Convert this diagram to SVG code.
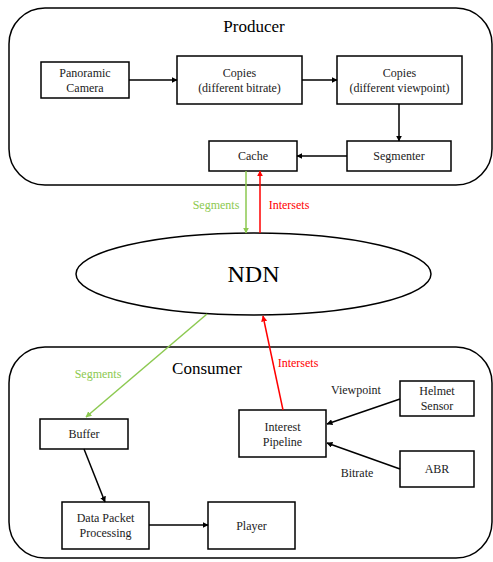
<svg xmlns="http://www.w3.org/2000/svg" width="493" height="562" viewBox="0 0 493 562">
<defs>
<style>
.box{fill:#fff;stroke:#000;stroke-width:1.5}
.cont{fill:none;stroke:#000;stroke-width:1.5}
text{font-family:"Liberation Serif","Times New Roman",serif;font-size:12px;fill:#222;text-anchor:middle}
.title{font-size:17px;fill:#000}
.ndn{font-size:24px;fill:#000}
.g{fill:#8cc950}
.r{fill:#ff0000}
.k{stroke:#000;stroke-width:1.5;fill:none}
.gl{stroke:#8cc950;stroke-width:1.5;fill:none}
.rl{stroke:#ff0000;stroke-width:1.5;fill:none}
</style>
<marker id="ak" viewBox="0 0 10 10" refX="9" refY="5" markerWidth="6" markerHeight="6" orient="auto" markerUnits="userSpaceOnUse"><path d="M0,0 L10,5 L0,10 z" fill="#000"/></marker>
<marker id="ag" viewBox="0 0 10 10" refX="9" refY="5" markerWidth="6" markerHeight="6" orient="auto" markerUnits="userSpaceOnUse"><path d="M0,0 L10,5 L0,10 z" fill="#8cc950"/></marker>
<marker id="ar" viewBox="0 0 10 10" refX="9" refY="5" markerWidth="6" markerHeight="6" orient="auto" markerUnits="userSpaceOnUse"><path d="M0,0 L10,5 L0,10 z" fill="#ff0000"/></marker>
</defs>
<rect width="493" height="562" fill="#fff"/>
<g id="producer">
<rect class="cont" x="9" y="8" width="483" height="177" rx="36" ry="36"/>
<text class="title" x="254" y="32">Producer</text>
</g>
<g id="consumer">
<rect class="cont" x="9" y="347" width="483" height="211" rx="36" ry="36"/>
<text class="title" x="207" y="374">Consumer</text>
</g>
<g id="camera"><rect class="box" x="41" y="62" width="88" height="36"/><text x="85" y="77">Panoramic</text><text x="85" y="92">Camera</text></g>
<g id="copies-bitrate"><rect class="box" x="177" y="56" width="125" height="48"/><text x="239.5" y="77">Copies</text><text x="239.5" y="92">(different bitrate)</text></g>
<g id="copies-viewpoint"><rect class="box" x="337" y="56" width="125" height="48"/><text x="399.5" y="77">Copies</text><text x="399.5" y="92">(different viewpoint)</text></g>
<g id="segmenter"><rect class="box" x="347" y="141" width="104" height="30"/><text x="399" y="160">Segmenter</text></g>
<g id="cache"><rect class="box" x="209" y="141" width="88" height="30"/><text x="253" y="160">Cache</text></g>
<g id="ndn"><ellipse class="box" cx="253.5" cy="274" rx="177.5" ry="41"/><text class="ndn" x="253.5" y="282">NDN</text></g>
<g id="buffer"><rect class="box" x="40" y="419" width="88" height="30"/><text x="84" y="438">Buffer</text></g>
<g id="interest-pipeline"><rect class="box" x="239" y="410" width="87" height="47"/><text x="282.5" y="431">Interest</text><text x="282.5" y="446">Pipeline</text></g>
<g id="helmet"><rect class="box" x="400" y="381" width="74" height="35"/><text x="437" y="395">Helmet</text><text x="437" y="410">Sensor</text></g>
<g id="abr"><rect class="box" x="400" y="451" width="74" height="36"/><text x="437" y="473">ABR</text></g>
<g id="dpp"><rect class="box" x="62" y="502" width="87" height="47"/><text x="105.5" y="522">Data Packet</text><text x="105.5" y="537">Processing</text></g>
<g id="player"><rect class="box" x="208" y="502" width="87" height="47"/><text x="251.5" y="530">Player</text></g>
<g id="connectors">
<line class="k" x1="129" y1="80" x2="177" y2="80" marker-end="url(#ak)"/>
<line class="k" x1="302" y1="80" x2="337" y2="80" marker-end="url(#ak)"/>
<line class="k" x1="399" y1="104" x2="399" y2="141" marker-end="url(#ak)"/>
<line class="k" x1="347" y1="156" x2="297" y2="156" marker-end="url(#ak)"/>
<line class="gl" x1="246" y1="171" x2="246" y2="233" marker-end="url(#ag)"/>
<line class="rl" x1="260" y1="233" x2="260" y2="171" marker-end="url(#ar)"/>
<text class="g" x="216" y="209">Segments</text>
<text class="r" x="289" y="209">Intersets</text>
<line class="gl" x1="207" y1="314" x2="86" y2="417" marker-end="url(#ag)"/>
<line class="rl" x1="283" y1="410" x2="263" y2="316" marker-end="url(#ar)"/>
<text class="g" x="98" y="378">Segments</text>
<text class="r" x="298" y="367">Intersets</text>
<line class="k" x1="400" y1="399" x2="327" y2="424" marker-end="url(#ak)"/>
<line class="k" x1="400" y1="469" x2="327" y2="443" marker-end="url(#ak)"/>
<text x="356" y="394">Viewpoint</text>
<text x="357" y="477">Bitrate</text>
<line class="k" x1="84" y1="449" x2="105" y2="502" marker-end="url(#ak)"/>
<line class="k" x1="149" y1="525" x2="208" y2="525" marker-end="url(#ak)"/>
</g>
</svg>
